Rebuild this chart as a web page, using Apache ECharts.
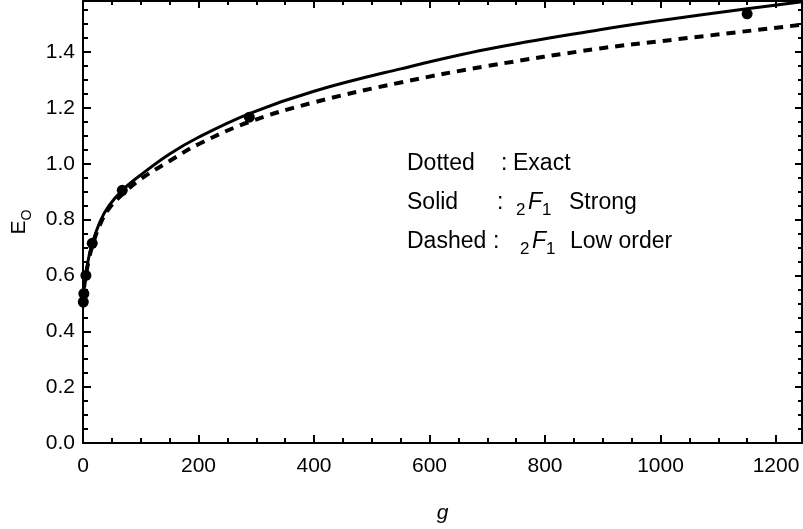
<!DOCTYPE html>
<html>
<head>
<meta charset="utf-8">
<script src="https://cdn.jsdelivr.net/npm/echarts@6/dist/echarts.min.js"></script>
<style>
html,body{margin:0;padding:0;background:#fff}
#chart{width:803px;height:529px}
</style>
</head>
<body>
<div id="chart"></div>
<script>
// dotted : exact values (dots)
var exactG = [0.5, 1.5, 5, 16, 68, 288, 1150];
var exactE = [0.505, 0.535, 0.60, 0.715, 0.905, 1.167, 1.537];
// solid : 2F1 strong
var strongG = [0, 1, 2, 5, 10, 16, 30, 45, 68, 100, 150, 200, 288, 400, 550, 700, 895, 1000, 1150, 1245];
var strongE = [0.5, 0.535, 0.56, 0.605, 0.665, 0.715, 0.795, 0.85, 0.905, 0.96, 1.035, 1.095, 1.18, 1.26, 1.34, 1.41, 1.48, 1.513, 1.555, 1.58];
// dashed : 2F1 low order
var lowG = [0, 1, 2, 5, 10, 16, 30, 45, 68, 100, 150, 200, 288, 400, 550, 700, 895, 1000, 1245];
var lowE = [0.5, 0.535, 0.56, 0.6, 0.655, 0.705, 0.785, 0.84, 0.89, 0.945, 1.01, 1.07, 1.15, 1.22, 1.291, 1.35, 1.413, 1.439, 1.498];

function zip(a, b) {
  var out = [];
  for (var i = 0; i < a.length; i++) out.push([a[i], b[i]]);
  return out;
}

var chart = echarts.init(document.getElementById('chart'));
var font = 'Arial, "Liberation Sans", sans-serif';

function frameAxis(kind, pos, main) {
  var isX = kind === 'x';
  return {
    type: 'value',
    position: pos,
    min: 0,
    max: isX ? 1245 : 1.583,
    interval: isX ? 200 : 0.2,
    name: main ? (isX ? 'g' : '{a|E}{b|O}') : '',
    nameLocation: 'middle',
    nameGap: isX ? 60 : 49,
    nameTextStyle: isX ? {fontFamily: font, fontSize: 21, fontStyle: 'italic', color: '#000'} : {
      color: '#000',
      rich: {
        a: {fontFamily: font, fontSize: 21, color: '#000', lineHeight: 30},
        b: {fontFamily: font, fontSize: 14, color: '#000', lineHeight: 14, verticalAlign: 'bottom'}
      }
    },
    splitLine: {show: false},
    axisLine: {show: true, onZero: false, lineStyle: {color: '#000', width: 2}},
    axisTick: {show: true, inside: true, length: main ? 8 : 7, lineStyle: {color: '#000', width: 2}},
    minorTick: {show: true, splitNumber: 4, length: main ? 5 : 4, lineStyle: {color: '#000', width: 2}},
    axisLabel: {
      show: main,
      showMaxLabel: false,
      margin: isX ? 13 : 8,
      color: '#000',
      fontFamily: font,
      fontSize: 21,
      formatter: function (v) { return isX ? String(v) : v.toFixed(1); }
    }
  };
}

function txt(x, y, s, size, italic) {
  return {
    type: 'text',
    x: x,
    y: y,
    style: {
      text: s,
      fill: '#000',
      font: (italic ? 'italic ' : '') + size + 'px ' + font,
      verticalAlign: 'middle'
    }
  };
}

var legendText = [
  txt(407, 164, 'Dotted', 23), txt(501, 164, ':', 23), txt(513, 164, 'Exact', 23),
  txt(407, 203, 'Solid', 23), txt(497, 203, ':', 23),
  txt(516, 210, '2', 17), txt(528, 203, 'F', 23, true), txt(542, 210, '1', 17),
  txt(569, 203, 'Strong', 23),
  txt(407, 242, 'Dashed', 23), txt(493, 242, ':', 23),
  txt(520, 249, '2', 17), txt(532, 242, 'F', 23, true), txt(546, 249, '1', 17),
  txt(570, 242, 'Low order', 23)
];

chart.setOption({
  animation: false,
  backgroundColor: '#fff',
  grid: {left: 83, right: 1, top: 1, bottom: 84},
  xAxis: [frameAxis('x', 'bottom', true), frameAxis('x', 'top', false)],
  yAxis: [frameAxis('y', 'left', true), frameAxis('y', 'right', false)],
  graphic: legendText,
  series: [
    {
      name: 'Low order',
      type: 'line',
      data: zip(lowG, lowE),
      showSymbol: false,
      smooth: 0.4,
      lineStyle: {color: '#000', width: 4, type: [9, 7]}
    },
    {
      name: 'Strong',
      type: 'line',
      data: zip(strongG, strongE),
      showSymbol: false,
      smooth: 0.4,
      lineStyle: {color: '#000', width: 3}
    },
    {
      name: 'Exact',
      type: 'scatter',
      data: zip(exactG, exactE),
      symbolSize: 11,
      itemStyle: {color: '#000', opacity: 1},
      z: 5
    }
  ]
});
</script>
</body>
</html>
